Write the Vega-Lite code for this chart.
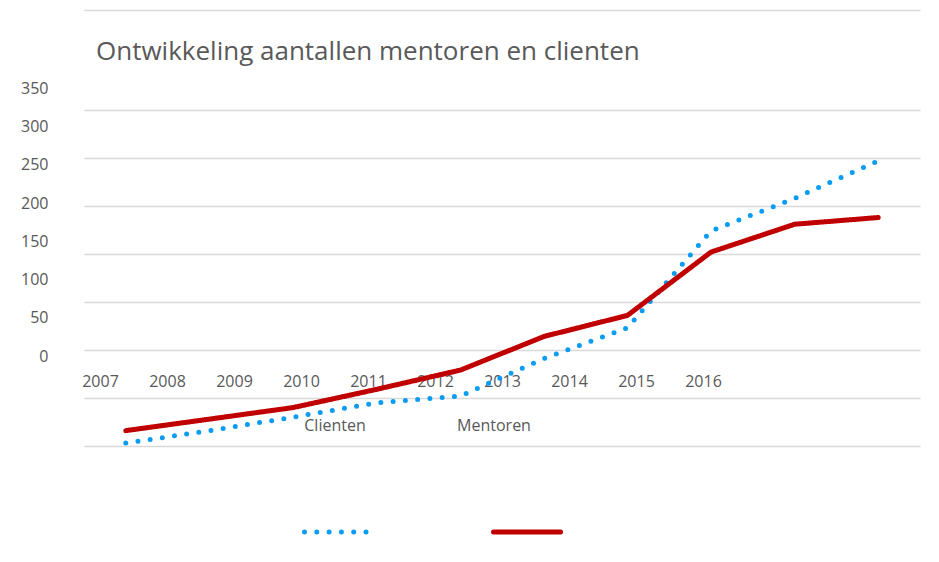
{
  "$schema": "https://vega.github.io/schema/vega-lite/v6.json",
  "autosize": {"type": "none"},
  "width": 836,
  "height": 336,
  "padding": {"left": 84, "top": 110, "right": 19, "bottom": 116},
  "background": "#ffffff",
  "title": {
    "text": "Ontwikkeling aantallen mentoren en clienten",
    "font": "Open Sans",
    "fontSize": 26,
    "fontWeight": "normal",
    "color": "#595959",
    "anchor": "start",
    "frame": "group",
    "baseline": "alphabetic",
    "dx": 12,
    "offset": -76
  },
  "data": {
    "values": [
      {"Jaar": 2007, "Reeks": "Clienten", "Aantal": 3},
      {"Jaar": 2008, "Reeks": "Clienten", "Aantal": 16},
      {"Jaar": 2009, "Reeks": "Clienten", "Aantal": 30},
      {"Jaar": 2010, "Reeks": "Clienten", "Aantal": 45},
      {"Jaar": 2011, "Reeks": "Clienten", "Aantal": 52},
      {"Jaar": 2012, "Reeks": "Clienten", "Aantal": 91},
      {"Jaar": 2013, "Reeks": "Clienten", "Aantal": 123},
      {"Jaar": 2014, "Reeks": "Clienten", "Aantal": 224},
      {"Jaar": 2015, "Reeks": "Clienten", "Aantal": 258},
      {"Jaar": 2016, "Reeks": "Clienten", "Aantal": 297},
      {"Jaar": 2007, "Reeks": "Mentoren", "Aantal": 16},
      {"Jaar": 2008, "Reeks": "Mentoren", "Aantal": 28},
      {"Jaar": 2009, "Reeks": "Mentoren", "Aantal": 40},
      {"Jaar": 2010, "Reeks": "Mentoren", "Aantal": 59},
      {"Jaar": 2011, "Reeks": "Mentoren", "Aantal": 79},
      {"Jaar": 2012, "Reeks": "Mentoren", "Aantal": 114},
      {"Jaar": 2013, "Reeks": "Mentoren", "Aantal": 136},
      {"Jaar": 2014, "Reeks": "Mentoren", "Aantal": 202},
      {"Jaar": 2015, "Reeks": "Mentoren", "Aantal": 231},
      {"Jaar": 2016, "Reeks": "Mentoren", "Aantal": 238}
    ]
  },
  "layer": [
    {
      "mark": {"type": "line", "strokeWidth": 5, "strokeCap": "round", "strokeJoin": "round"},
      "encoding": {
        "x": {
          "field": "Jaar", "type": "ordinal", "scale": {"type": "point", "padding": 0.5},
          "axis": {"orient": "top", "offset": 100, "labels": false, "ticks": false, "grid": false, "domain": true, "domainColor": "#D9D9D9", "domainWidth": 1.5, "title": null}
        },
        "y": {
          "field": "Aantal", "type": "quantitative",
          "scale": {"domain": [0, 350], "nice": false},
          "axis": {"orient": "right", "values": [0, 50, 100, 150, 200, 250, 300, 350], "grid": true, "gridColor": "#D9D9D9", "gridWidth": 1.3, "labels": false, "ticks": false, "domain": false, "title": null}
        },
        "color": {
          "field": "Reeks", "type": "nominal",
          "scale": {"domain": ["Clienten", "Mentoren"], "range": ["#0A9CF2", "#C00000"]},
          "legend": {
            "orient": "none",
            "legendX": 218,
            "legendY": 386,
            "direction": "horizontal",
            "title": null,
            "labelAlign": "center",
            "labelBaseline": "middle",
            "labelOffset": -36,
            "labelFont": "Open Sans",
            "labelFontSize": 16,
            "labelColor": "#595959",
            "columnPadding": 75,
            "symbolType": "stroke",
            "symbolSize": 4489,
            "symbolStrokeWidth": 5,
            "encoding": {
              "symbols": {"strokeCap": {"value": "round"}},
              "labels": {"dy": {"value": -106}, "dx": {"value": {"expr": "datum.label === 'Mentoren' ? -33 : -3"}}}
            }
          }
        },
        "strokeDash": {
          "field": "Reeks", "type": "nominal",
          "scale": {"domain": ["Clienten", "Mentoren"], "range": [[0, 12.3], [1, 0]]},
          "legend": {
            "orient": "none",
            "legendX": 218,
            "legendY": 386,
            "direction": "horizontal",
            "title": null,
            "labelAlign": "center",
            "labelBaseline": "middle",
            "labelOffset": -36,
            "labelFont": "Open Sans",
            "labelFontSize": 16,
            "labelColor": "#595959",
            "columnPadding": 75,
            "symbolType": "stroke",
            "symbolSize": 4489,
            "symbolStrokeWidth": 5,
            "encoding": {
              "symbols": {"strokeCap": {"value": "round"}},
              "labels": {"dy": {"value": -106}, "dx": {"value": {"expr": "datum.label === 'Mentoren' ? -33 : -3"}}}
            }
          }
        }
      }
    },
    {
      "mark": {"type": "point", "opacity": 0},
      "encoding": {
        "x": {
          "field": "Jaar", "type": "quantitative",
          "scale": {"domain": [2006.761, 2019.239], "nice": false, "zero": false},
          "axis": {"orient": "bottom", "values": [2007, 2008, 2009, 2010, 2011, 2012, 2013, 2014, 2015, 2016], "format": "d", "offset": -64.3, "labelPadding": 0, "ticks": false, "tickSize": 0, "domain": false, "grid": false, "labelBaseline": "middle", "labelAlign": "center", "labelFlush": false, "labelOverlap": false, "labelFont": "Open Sans", "labelFontSize": 16, "labelColor": "#595959", "title": null}
        },
        "y": {
          "field": "Aantal", "type": "quantitative",
          "scale": {"domain": [0, 350], "range": [246, -21.7], "nice": false, "zero": false},
          "axis": {"orient": "left", "values": [0, 50, 100, 150, 200, 250, 300, 350], "labelPadding": 36, "ticks": false, "tickSize": 0, "domain": false, "grid": false, "labelBaseline": "middle", "labelAlign": "right", "labelFlush": false, "labelOverlap": false, "labelFont": "Open Sans", "labelFontSize": 16, "labelColor": "#595959", "title": null}
        }
      }
    }
  ],
  "resolve": {"scale": {"x": "independent", "y": "independent"}},
  "config": {"view": {"stroke": null}}
}
